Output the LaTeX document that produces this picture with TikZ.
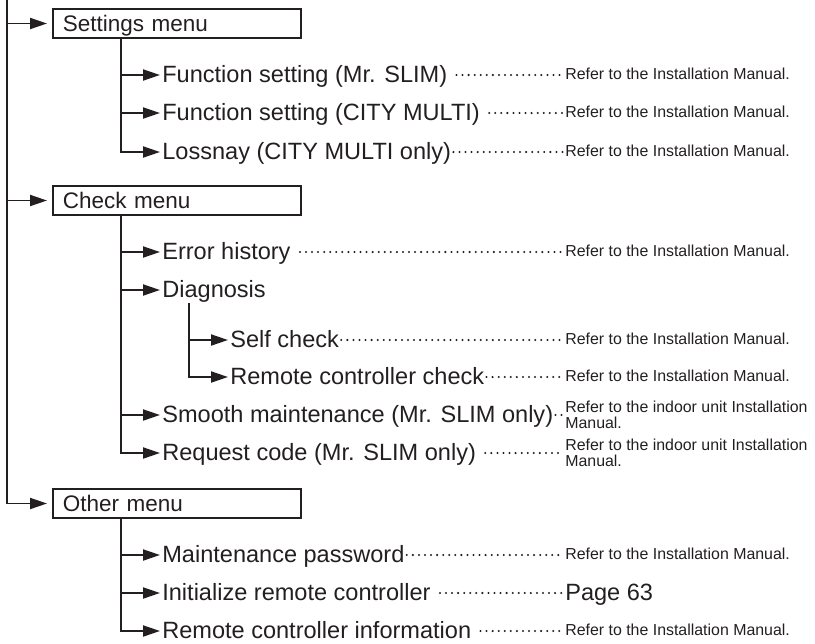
\documentclass[tikz,border=0pt]{standalone}
\usepackage{fontspec}
\setmainfont{Liberation Sans}
\usepackage{xcolor}
\usetikzlibrary{arrows.meta}

\definecolor{ink}{RGB}{35,31,32}

\tikzset{
  menubox/.style={draw, line width=1.1pt, anchor=west, minimum width=4.96cm, minimum height=0.58cm,
    text width=4.56cm, inner xsep=0.2cm, inner ysep=0pt, align=left,
    font=\fontsize{12.8pt}{15pt}\selectfont, text height=9.2pt, text depth=0pt},
  item/.style={anchor=west, inner xsep=0.04cm, inner ysep=0pt,
    font=\fontsize{13.4pt}{16pt}\selectfont, text height=9.65pt, text depth=1.3pt},
  ref/.style={anchor=west, inner xsep=0.04cm, inner ysep=0pt,
    font=\fontsize{9.05pt}{9.1pt}\selectfont, text height=6.5pt, text depth=0.9pt},
  reftwo/.style={anchor=west, inner xsep=0.04cm, inner ysep=0pt, align=left,
    font=\fontsize{9.05pt}{9.1pt}\selectfont},
  branch/.style={line width=1.1pt, -{Triangle[length=0.34cm, width=0.22cm]}},
  leader/.style={line width=1.3pt, line cap=round, dash pattern=on 0pt off 3.45pt},
  spaced/.style={xshift=0.14cm},
}

\begin{document}
\begin{tikzpicture}[x=0.02cm, y=-0.02cm, color=ink]
  \useasboundingbox (0,0) rectangle (815,643);

  \coordinate (root) at (7,0);
  \node[menubox] (settings) at (52,23.5) {Settings menu};
  \node[menubox] (check) at (52,200.5) {Check menu};
  \node[menubox] (other) at (52,503.5) {Other menu};
  \draw[branch, shorten >=0.1cm] (root) |- (other.west);
  \draw[branch, shorten >=0.1cm] (root |- settings.west) -- (settings.west);
  \draw[branch, shorten >=0.1cm] (root |- check.west) -- (check.west);

  \coordinate (settingstrunk) at (121,38);
  \node[item] (fsslim) at (160,75) {Function setting (Mr. SLIM)};
  \node[item] (fscity) at (160,113) {Function setting (CITY MULTI)};
  \node[item] (lossnay) at (160,152) {Lossnay (CITY MULTI only)};
  \draw[branch] (settingstrunk) |- (lossnay.west);
  \draw[branch] (settingstrunk |- fsslim.west) -- (fsslim.west);
  \draw[branch] (settingstrunk |- fscity.west) -- (fscity.west);
  \node[ref] (fsslimref) at (563,75) {Refer to the Installation Manual.};
  \node[ref] (fscityref) at (563,113) {Refer to the Installation Manual.};
  \node[ref] (lossnayref) at (563,152) {Refer to the Installation Manual.};
  \draw[leader] ([spaced]fsslim.east) -- (fsslimref.west);
  \draw[leader] ([spaced]fscity.east) -- (fscityref.west);
  \draw[leader] (lossnay.east) -- (lossnayref.west);

  \coordinate (checktrunk) at (121,215);
  \node[item] (errhist) at (160,252) {Error history};
  \node[item] (diag) at (160,290) {Diagnosis};
  \node[item] (smooth) at (160,415) {Smooth maintenance (Mr. SLIM only)};
  \node[item] (reqcode) at (160,453) {Request code (Mr. SLIM only)};
  \draw[branch] (checktrunk) |- (reqcode.west);
  \draw[branch] (checktrunk |- errhist.west) -- (errhist.west);
  \draw[branch] (checktrunk |- diag.west) -- (diag.west);
  \draw[branch] (checktrunk |- smooth.west) -- (smooth.west);

  \coordinate (diagtrunk) at (189,303);
  \node[item] (selfchk) at (228,340) {Self check};
  \node[item] (rcchk) at (228,377) {Remote controller check};
  \draw[branch] (diagtrunk) |- (rcchk.west);
  \draw[branch] (diagtrunk |- selfchk.west) -- (selfchk.west);

  \node[ref] (errhistref) at (563,252) {Refer to the Installation Manual.};
  \node[ref] (selfchkref) at (563,340) {Refer to the Installation Manual.};
  \node[ref] (rcchkref) at (563,377) {Refer to the Installation Manual.};
  \node[reftwo] (smoothref) at (563,415) {Refer to the indoor unit Installation\\Manual.};
  \node[reftwo] (reqcoderef) at (563,453) {Refer to the indoor unit Installation\\Manual.};
  \draw[leader] ([spaced]errhist.east) -- (errhistref.west);
  \draw[leader] (selfchk.east) -- (selfchkref.west);
  \draw[leader] (rcchk.east) -- (rcchkref.west);
  \draw[leader] (smooth.east) -- (smoothref.west);
  \draw[leader] ([spaced]reqcode.east) -- (reqcoderef.west);

  \coordinate (othertrunk) at (121,518);
  \node[item] (maintpw) at (160,555) {Maintenance password};
  \node[item] (initrc) at (160,593) {Initialize remote controller};
  \node[item] (rcinfo) at (160,631) {Remote controller information};
  \draw[branch] (othertrunk) |- (rcinfo.west);
  \draw[branch] (othertrunk |- maintpw.west) -- (maintpw.west);
  \draw[branch] (othertrunk |- initrc.west) -- (initrc.west);
  \node[ref] (maintpwref) at (563,555) {Refer to the Installation Manual.};
  \node[item] (initrcref) at (563,593) {Page 63};
  \node[ref] (rcinforef) at (563,631) {Refer to the Installation Manual.};
  \draw[leader] (maintpw.east) -- (maintpwref.west);
  \draw[leader] ([spaced]initrc.east) -- (initrcref.west);
  \draw[leader] ([spaced]rcinfo.east) -- (rcinforef.west);
\end{tikzpicture}
\end{document}
